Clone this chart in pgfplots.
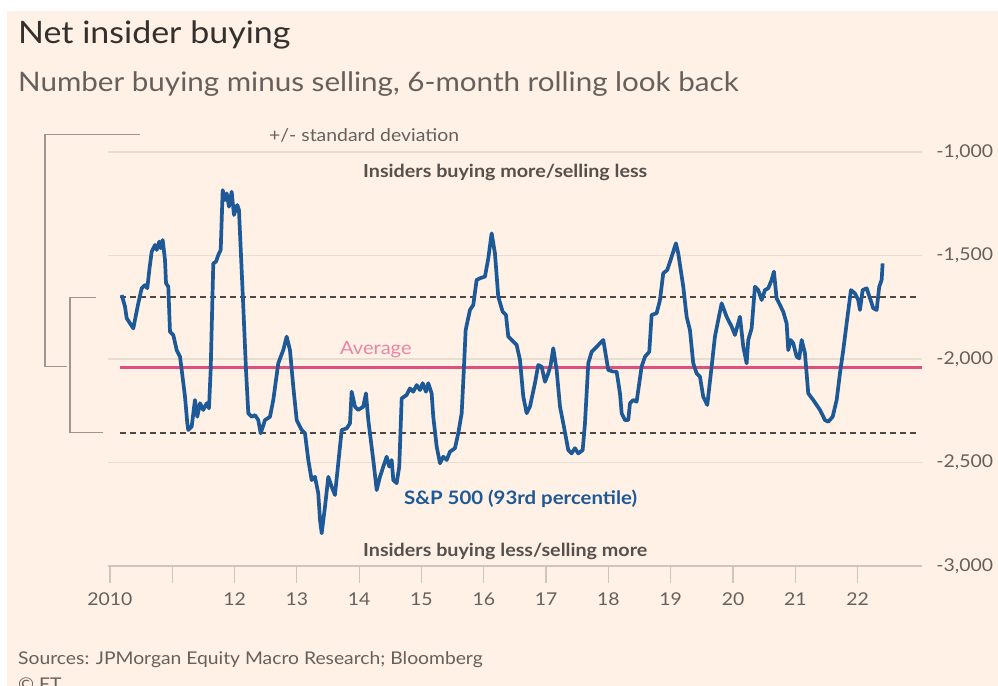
\documentclass[border=0pt]{standalone}
\usepackage{pgfplots}
\pgfplotsset{compat=1.18}
\usepackage{pgfplotstable}
\usepackage{fontspec}
\setmainfont[FakeStretch=1.1]{Lato}
\definecolor{ftbg}{HTML}{FFF1E5}
\definecolor{ftgrey}{HTML}{66605C}
\definecolor{ftdark}{HTML}{33302E}
\definecolor{ftmid}{HTML}{55504C}
\definecolor{ftblue}{HTML}{1D5997}
\definecolor{ftpink}{HTML}{E0507F}
\definecolor{ftpinklt}{HTML}{E985A7}
\definecolor{gridc}{HTML}{E8DDD3}
\definecolor{basec}{HTML}{CFC5BC}
\definecolor{brack}{HTML}{9E9791}
\definecolor{dashc}{HTML}{4D4845}

\pgfplotstableread{
x y
2010.188 -1691
2010.241 -1747
2010.268 -1803
2010.374 -1852
2010.454 -1731
2010.509 -1658
2010.562 -1643
2010.599 -1658
2010.631 -1570
2010.669 -1482
2010.722 -1449
2010.750 -1473
2010.791 -1433
2010.814 -1465
2010.846 -1425
2010.883 -1522
2010.899 -1634
2010.936 -1651
2010.963 -1868
2011.016 -1884
2011.071 -1957
2011.124 -1989
2011.151 -2053
2011.204 -2182
2011.241 -2311
2011.257 -2343
2011.311 -2327
2011.364 -2198
2011.401 -2279
2011.445 -2214
2011.497 -2246
2011.552 -2214
2011.589 -2238
2011.616 -2053
2011.658 -1538
2011.701 -1530
2011.738 -1498
2011.777 -1473
2011.809 -1184
2011.846 -1232
2011.873 -1200
2011.910 -1264
2011.953 -1192
2011.990 -1304
2012.043 -1256
2012.070 -1280
2012.135 -1715
2012.183 -2053
2012.220 -2262
2012.274 -2279
2012.327 -2271
2012.380 -2295
2012.419 -2359
2012.488 -2295
2012.568 -2279
2012.621 -2198
2012.701 -2021
2012.781 -1957
2012.836 -1892
2012.889 -1957
2012.942 -2134
2012.997 -2295
2013.050 -2327
2013.077 -2343
2013.130 -2359
2013.183 -2488
2013.237 -2585
2013.290 -2569
2013.343 -2649
2013.371 -2778
2013.398 -2842
2013.451 -2714
2013.504 -2569
2013.558 -2617
2013.611 -2657
2013.664 -2504
2013.719 -2343
2013.799 -2335
2013.852 -2311
2013.879 -2158
2013.932 -2230
2013.985 -2246
2014.065 -2230
2014.109 -2166
2014.146 -2295
2014.226 -2488
2014.281 -2633
2014.334 -2569
2014.387 -2520
2014.441 -2472
2014.483 -2520
2014.521 -2488
2014.548 -2585
2014.601 -2600
2014.643 -2520
2014.682 -2190
2014.762 -2174
2014.815 -2142
2014.868 -2158
2014.923 -2126
2014.976 -2150
2015.019 -2117
2015.072 -2158
2015.109 -2117
2015.163 -2166
2015.189 -2279
2015.244 -2424
2015.297 -2504
2015.350 -2472
2015.404 -2488
2015.457 -2448
2015.537 -2431
2015.590 -2359
2015.645 -2262
2015.682 -2037
2015.709 -1860
2015.778 -1763
2015.831 -1739
2015.885 -1618
2015.939 -1610
2016.019 -1602
2016.072 -1514
2016.126 -1393
2016.179 -1489
2016.232 -1699
2016.303 -1772
2016.356 -1787
2016.393 -1892
2016.447 -1908
2016.527 -1932
2016.581 -2005
2016.634 -2182
2016.688 -2262
2016.741 -2230
2016.821 -2117
2016.874 -2029
2016.929 -2037
2016.982 -2110
2017.035 -2069
2017.073 -2029
2017.115 -1948
2017.169 -2053
2017.223 -2230
2017.276 -2311
2017.356 -2440
2017.410 -2456
2017.463 -2431
2017.516 -2456
2017.587 -2440
2017.624 -2311
2017.677 -2021
2017.731 -1965
2017.811 -1941
2017.918 -1908
2017.998 -2053
2018.078 -2061
2018.132 -2061
2018.186 -2166
2018.213 -2262
2018.266 -2295
2018.319 -2295
2018.346 -2214
2018.399 -2198
2018.453 -2206
2018.533 -2037
2018.587 -1989
2018.656 -1965
2018.694 -1787
2018.774 -1779
2018.828 -1715
2018.880 -1586
2018.945 -1570
2019.015 -1506
2019.084 -1441
2019.121 -1489
2019.202 -1651
2019.256 -1796
2019.309 -1860
2019.362 -2021
2019.416 -2069
2019.470 -2086
2019.522 -2182
2019.587 -2222
2019.657 -2037
2019.710 -1892
2019.763 -1812
2019.818 -1731
2019.898 -1796
2019.979 -1844
2020.031 -1884
2020.112 -1796
2020.165 -1941
2020.219 -2021
2020.245 -1908
2020.299 -1852
2020.352 -1651
2020.405 -1667
2020.460 -1715
2020.513 -1667
2020.566 -1658
2020.620 -1618
2020.657 -1578
2020.700 -1707
2020.754 -1739
2020.807 -1772
2020.861 -1828
2020.887 -1957
2020.925 -1908
2020.967 -1924
2021.022 -1989
2021.063 -1997
2021.102 -1908
2021.155 -1972
2021.208 -2166
2021.288 -2198
2021.396 -2246
2021.476 -2295
2021.529 -2303
2021.600 -2279
2021.664 -2198
2021.717 -2069
2021.770 -1957
2021.824 -1828
2021.893 -1667
2021.957 -1683
2022.010 -1715
2022.038 -1763
2022.081 -1667
2022.145 -1658
2022.209 -1715
2022.251 -1755
2022.306 -1763
2022.347 -1651
2022.386 -1618
2022.402 -1538
}\insider

\begin{document}
\begin{tikzpicture}[x=1bp,y=1bp]
\useasboundingbox (0,0) rectangle (998,686);
\fill[white] (0,0) rectangle (998,686);
\fill[ftbg] (7,0) rectangle (998,674.5);

% titles
\node[anchor=base west, inner sep=0, text=ftdark, font=\fontsize{31}{34}\selectfont] at (18,686-44) {Net insider buying};
\node[anchor=base west, inner sep=0, text=ftgrey, font=\fontsize{27}{30}\selectfont] at (18,686-92) {Number buying minus selling, 6-month rolling look back};

% brackets
\draw[brack, line width=1.2bp] (140,686-134.3) -- (45,686-134.3) -- (45,686-366.7) -- (66.5,686-366.7);
\draw[brack, line width=1.2bp] (96,686-297.7) -- (70,686-297.7) -- (70,686-432.7) -- (103,686-432.7);

\begin{axis}[
  at={(108bp,120bp)}, anchor=south west,
  x=62.2991bp, y=0.207bp,
  xmin=2009.968, xmax=2023.034,
  ymin=-3000, ymax=-1000,
  axis x line*=bottom,
  axis y line*=right,
  x axis line style={draw=basec, line width=1.2bp},
  y axis line style={draw=none},
  tick align=outside,
  major tick length=17bp,
  xtick={2010,2011,...,2022},
  xticklabels={2010,,12,13,14,15,16,17,18,19,20,21,22},
  xtick style={draw=basec, line width=1.2bp},
  ytick={-3000,-2500,-2000,-1500,-1000},
  yticklabels={{-3,000},{-2,500},{-2,000},{-1,500},{-1,000}},
  ytick style={draw=none},
  ymajorgrids,
  grid style={draw=gridc, line width=1.2bp},
  /pgf/number format/assume math mode=true,
  ticklabel style={text=ftgrey, font=\fontsize{17.7}{20}\selectfont},
  xticklabel style={yshift=-6bp},
  yticklabel style={xshift=-6bp},
  clip=false,
]
\addplot[draw=basec, line width=1.2bp, forget plot] coordinates {(2009.968,-3000) (2023.034,-3000)};
\addplot[draw=dashc, line width=2bp, dash pattern=on 6bp off 4bp] coordinates {(2010.16,-1699) (2022.95,-1699)};
\addplot[draw=dashc, line width=2bp, dash pattern=on 6bp off 4bp] coordinates {(2010.16,-2359) (2022.95,-2359)};
\addplot[draw=ftpink, line width=3.6bp] coordinates {(2010.16,-2042) (2023.034,-2042)};
\addplot[draw=ftblue, line width=3.7bp, line join=round] table[x=x,y=y] {\insider};
\end{axis}

% annotations
\node[anchor=base west, inner sep=0, text=ftgrey, font=\fontsize{17.7}{20}\selectfont] at (269,686-141.7) {+/- standard deviation};
\node[anchor=base west, inner sep=0, text=ftmid, font=\bfseries\fontsize{18}{21}\selectfont] at (363,686-178) {Insiders buying more/selling less};
\node[anchor=base west, inner sep=0, text=ftpinklt, font=\fontsize{18.3}{21}\selectfont] at (340,686-355) {Average};
\node[anchor=base west, inner sep=0, text=ftblue, font=\bfseries\fontsize{18.6}{21}\selectfont] at (404,686-505) {S\&P 500 (93rd percentile)};
\node[anchor=base west, inner sep=0, text=ftmid, font=\bfseries\fontsize{18}{21}\selectfont] at (363,686-556.7) {Insiders buying less/selling more};

% source
\node[anchor=base west, inner sep=0, text=ftgrey, font=\fontsize{17.6}{21}\selectfont] at (18,686-665) {Sources: JPMorgan Equity Macro Research; Bloomberg};
\node[anchor=base west, inner sep=0, text=ftgrey, font=\fontsize{17.6}{21}\selectfont] at (18,686-691) {\textcopyright{} FT};
\end{tikzpicture}
\end{document}
